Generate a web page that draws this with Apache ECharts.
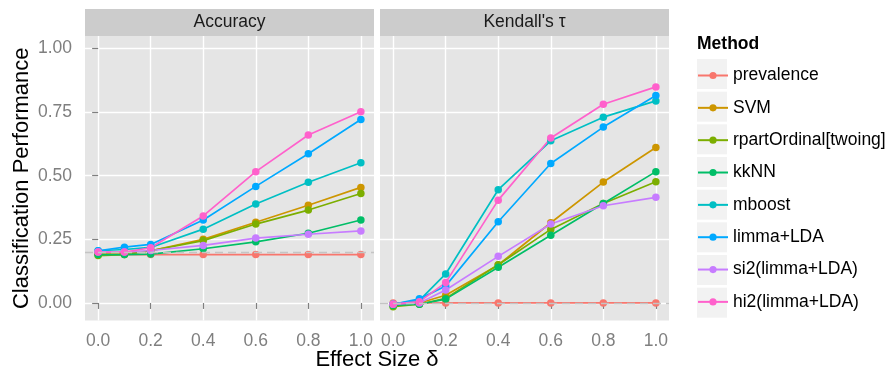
<!DOCTYPE html>
<html><head><meta charset="utf-8">
<script src="https://cdn.jsdelivr.net/npm/echarts@6/dist/echarts.min.js"></script>
<style>html,body{margin:0;padding:0;background:#fff}#c{width:891px;height:372px}</style>
</head><body><div id="c"></div>
<script>
// ---------- data ----------
const effectSizes = [0, 0.1, 0.2, 0.4, 0.6, 0.8, 1.0];
const methods = ['prevalence', 'SVM', 'rpartOrdinal[twoing]', 'kkNN', 'mboost', 'limma+LDA', 'si2(limma+LDA)', 'hi2(limma+LDA)'];
const panels = ['Accuracy', "Kendall's τ"];
const xTicks = [0, 0.2, 0.4, 0.6, 0.8, 1.0];
const xMinorTicks = [0.1, 0.3, 0.5, 0.7, 0.9];
const yTicks = [0, 0.25, 0.5, 0.75, 1.0];
const yMinorTicks = [0.125, 0.375, 0.625, 0.875];
const referenceLines = [0.2, 0];

// Accuracy panel
const accPrevalence = [0.190, 0.190, 0.190, 0.190, 0.190, 0.190, 0.190];
const accSVM        = [0.192, 0.192, 0.205, 0.250, 0.317, 0.384, 0.454];
const accRpart      = [0.186, 0.190, 0.205, 0.245, 0.310, 0.365, 0.430];
const accKkNN       = [0.190, 0.190, 0.192, 0.213, 0.240, 0.274, 0.326];
const accMboost     = [0.205, 0.210, 0.218, 0.290, 0.389, 0.474, 0.551];
const accLimma      = [0.205, 0.219, 0.230, 0.326, 0.458, 0.586, 0.721];
const accSi2        = [0.200, 0.200, 0.206, 0.226, 0.255, 0.270, 0.283];
const accHi2        = [0.200, 0.200, 0.217, 0.342, 0.516, 0.660, 0.751];

// Kendall's tau panel
const tauPrevalence = [0.000, 0.000, 0.000, 0.000, 0.000, 0.000, 0.000];
const tauSVM        = [-0.010, 0.000, 0.030, 0.149, 0.315, 0.475, 0.611];
const tauRpart      = [-0.015, -0.005, 0.018, 0.150, 0.289, 0.391, 0.476];
const tauKkNN       = [-0.010, -0.005, 0.015, 0.140, 0.266, 0.391, 0.516];
const tauMboost     = [-0.005, 0.010, 0.114, 0.445, 0.637, 0.730, 0.794];
const tauLimma      = [-0.005, 0.016, 0.067, 0.319, 0.548, 0.691, 0.815];
const tauSi2        = [-0.005, 0.000, 0.051, 0.183, 0.310, 0.382, 0.415];
const tauHi2        = [-0.005, 0.005, 0.080, 0.404, 0.648, 0.781, 0.849];

const accuracyValues = [accPrevalence, accSVM, accRpart, accKkNN, accMboost, accLimma, accSi2, accHi2];
const tauValues = [tauPrevalence, tauSVM, tauRpart, tauKkNN, tauMboost, tauLimma, tauSi2, tauHi2];

// ---------- style ----------
const colors = ['#F8766D', '#CD9600', '#7CAE00', '#00BE67', '#00BFC4', '#00A9FF', '#C77CFF', '#FF61CC'];
const FONT = 'Liberation Sans, Arial, Helvetica, sans-serif';
const SMALL = 17.5;
const gridTop = 36, gridH = 284.5, gridW = 289;
const gridLefts = [85, 380];
const yMin = -0.069, yMax = 1.049, xMin = -0.05, xMax = 1.05;

const chart = echarts.init(document.getElementById('c'), null, {renderer: 'canvas'});

const grids = gridLefts.map(l => ({left: l, top: gridTop, width: gridW, height: gridH,
  show: true, backgroundColor: '#E5E5E5', borderWidth: 0, containLabel: false}));

const xAxes = [], yAxes = [];
[0, 1].forEach(g => {
  xAxes.push({
    type: 'value', gridIndex: g, min: xMin, max: xMax,
    axisLine: {show: false},
    axisTick: {show: true, customValues: xTicks, length: 6, lineStyle: {color: '#7F7F7F', width: 1.2}},
    axisLabel: {show: true, customValues: xTicks, formatter: v => v.toFixed(1), color: '#7F7F7F',
      fontSize: SMALL, fontFamily: FONT, margin: 12},
    splitLine: {show: true, lineStyle: {color: '#FFFFFF', width: 1.4}}
  });
  yAxes.push({
    type: 'value', gridIndex: g, min: yMin, max: yMax,
    axisLine: {show: false},
    axisTick: {show: g === 0, customValues: yTicks, length: 6, lineStyle: {color: '#7F7F7F', width: 1.2}},
    axisLabel: {show: g === 0, customValues: yTicks, formatter: v => v.toFixed(2), color: '#7F7F7F',
      fontSize: SMALL, fontFamily: FONT, margin: 13},
    splitLine: {show: true, lineStyle: {color: '#FFFFFF', width: 1.4}},
    name: g === 0 ? 'Classification Performance' : '',
    nameLocation: 'middle', nameGap: 52,
    nameTextStyle: {fontSize: 22, fontFamily: FONT, color: '#000'}
  });
});
// minor grid axes
[0, 1].forEach(g => {
  xAxes.push({
    type: 'value', gridIndex: g, min: xMin, max: xMax,
    axisLine: {show: false}, axisTick: {show: false, customValues: xMinorTicks},
    axisLabel: {show: false, customValues: xMinorTicks},
    splitLine: {show: true, lineStyle: {color: '#F2F2F2', width: 0.7}}, z: -1
  });
  yAxes.push({
    type: 'value', gridIndex: g, min: yMin, max: yMax,
    axisLine: {show: false}, axisTick: {show: false, customValues: yMinorTicks},
    axisLabel: {show: false, customValues: yMinorTicks},
    splitLine: {show: true, lineStyle: {color: '#F2F2F2', width: 0.7}}, z: -1
  });
});

const series = [];
[accuracyValues, tauValues].forEach((panelVals, g) => {
  panelVals.forEach((vals, i) => {
    const s = {
      type: 'line', name: methods[i], xAxisIndex: g, yAxisIndex: g,
      data: effectSizes.map((x, k) => [x, vals[k]]),
      symbol: 'circle', symbolSize: 7.5, showSymbol: true,
      lineStyle: {color: colors[i], width: 1.7},
      itemStyle: {color: colors[i]},
      emphasis: {disabled: true}, animation: false, z: 2
    };
    if (i === 0) {
      s.markLine = {
        silent: true, symbol: 'none', animation: false,
        label: {show: false},
        lineStyle: {color: '#C4C4C4', type: [8, 5], width: 1.4},
        data: [{yAxis: referenceLines[g]}]
      };
    }
    series.push(s);
  });
});

const graphics = [];
panels.forEach((p, g) => {
  graphics.push({type: 'rect', left: gridLefts[g], top: 9, shape: {width: gridW, height: 27},
    style: {fill: '#CCCCCC'}, silent: true});
  graphics.push({type: 'text', x: gridLefts[g] + gridW / 2, y: 22.5,
    style: {text: p, fill: '#1A1A1A', font: SMALL + 'px ' + FONT, textAlign: 'center', textVerticalAlign: 'middle'}});
});
graphics.push({type: 'text', x: (gridLefts[0] + gridLefts[1] + gridW) / 2, y: 360,
  style: {text: 'Effect Size δ', fill: '#000', font: '22px ' + FONT, textAlign: 'center', textVerticalAlign: 'middle'}});
graphics.push({type: 'text', x: 697, y: 44,
  style: {text: 'Method', fill: '#000', font: 'bold ' + SMALL + 'px ' + FONT, textAlign: 'left', textVerticalAlign: 'middle'}});
const keyTop = 59, keyStep = 32.67;
methods.forEach((m, i) => {
  graphics.push({type: 'rect', left: 697, top: keyTop + keyStep * i, shape: {width: 30, height: 30},
    style: {fill: '#F2F2F2'}, silent: true, z: -10});
});

chart.setOption({
  animation: false,
  textStyle: {fontFamily: FONT},
  grid: grids,
  xAxis: xAxes,
  yAxis: yAxes,
  legend: {
    data: methods, orient: 'vertical', left: 697, top: 66.5, padding: 0,
    itemWidth: 30, itemHeight: 9, itemGap: keyStep - 18.33,
    textStyle: {fontSize: SMALL, fontFamily: FONT, color: '#000', lineHeight: 9},
    selectedMode: false
  },
  graphic: graphics,
  series: series
});
</script></body></html>
